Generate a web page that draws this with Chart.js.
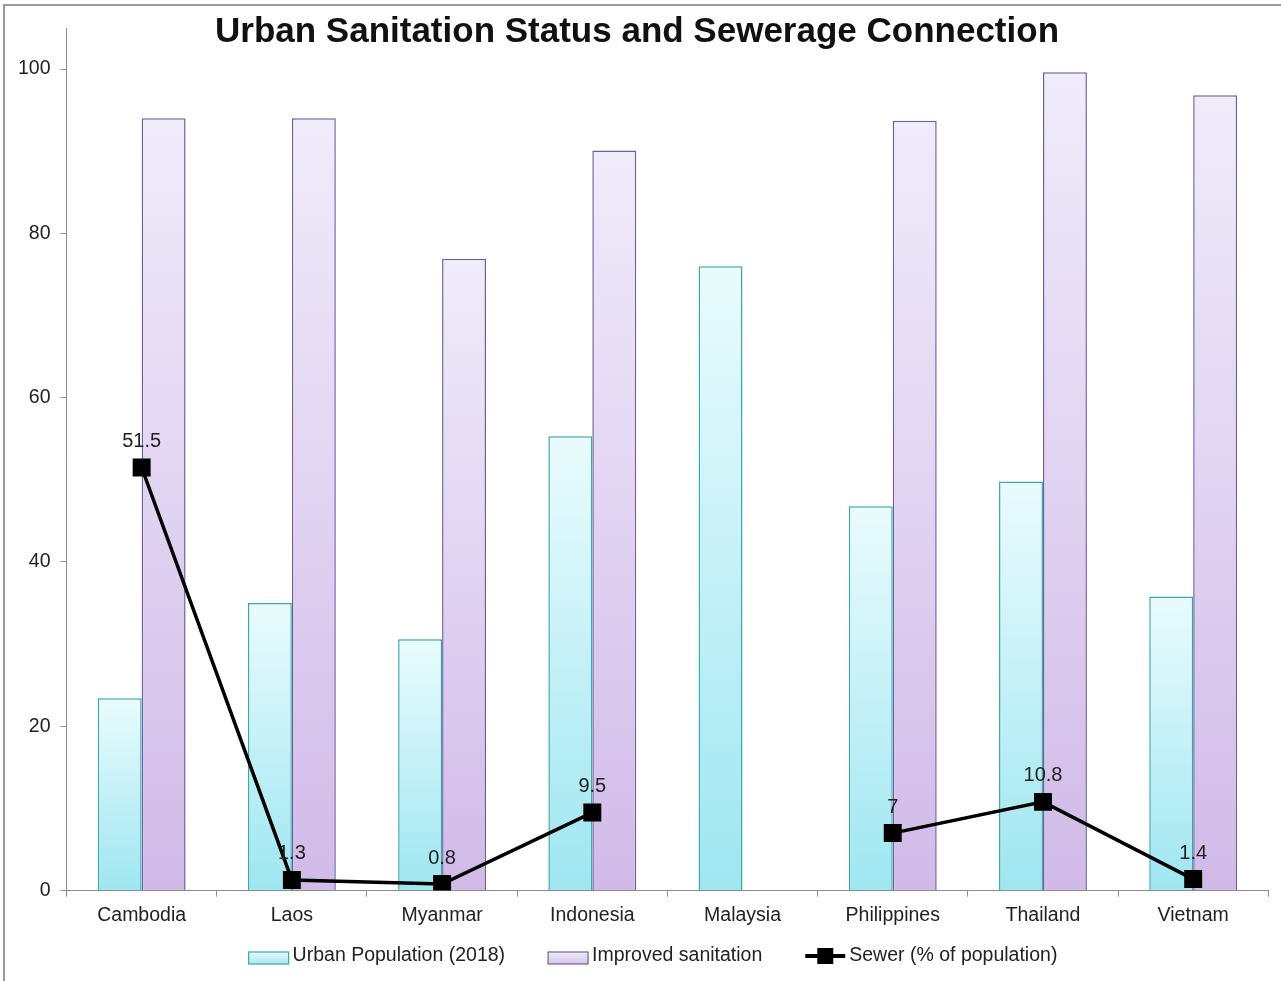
<!DOCTYPE html>
<html>
<head>
<meta charset="utf-8">
<title>Urban Sanitation Status and Sewerage Connection</title>
<script src="https://cdn.jsdelivr.net/npm/chart.js@4/dist/chart.umd.min.js"></script>
<style>
  html, body { margin: 0; padding: 0; background: #fff; }
  #wrap { width: 1281px; height: 981px; }
</style>
</head>
<body>
<div id="wrap"><canvas id="graphCanvas" width="1281" height="981"></canvas></div>
<script>
// data
var Zemlje = ["Cambodia", "Laos", "Myanmar", "Indonesia", "Malaysia", "Philippines", "Thailand", "Vietnam"];
var UrbanPop = [23.4, 35.0, 30.6, 55.3, 76.0, 46.8, 49.8, 35.8];
var Sanitacija = [94.0, 94.0, 76.9, 90.1, null, 93.7, 99.6, 96.8];
var Kanalizacija = [51.5, 1.3, 0.8, 9.5, null, 7, 10.8, 1.4];
var Oznake = ["51.5", "1.3", "0.8", "9.5", "", "7", "10.8", "1.4"];
var yTicks = [0, 20, 40, 60, 80, 100];

var naslov = "Urban Sanitation Status and Sewerage Connection";
var legendaNazivi = ["Urban Population (2018)", "Improved sanitation", "Sewer (% of population)"];

var FONT = 'Arial, "Liberation Sans", sans-serif';
var TEXT = '#222222';

// each bar gets its own vertical gradient: pale at the top, stronger at the base
function barFill(top, bottom) {
    return function(c) {
        var chart = c.chart;
        if (c.type !== 'data' || !chart.chartArea || c.parsed == null || c.parsed.y == null) return bottom;
        var ys = chart.scales.y;
        var y0 = ys.getPixelForValue(c.parsed.y);
        var y1 = ys.getPixelForValue(0);
        var g = chart.ctx.createLinearGradient(0, y0, 0, y1);
        g.addColorStop(0, top);
        g.addColorStop(1, bottom);
        return g;
    };
}

var naslovPlugin = {
    id: 'naslov',
    beforeDraw: function(chart) {
        var ctx = chart.ctx;
        ctx.save();
        // outer frame (left + top)
        ctx.strokeStyle = '#9a9a9a';
        ctx.lineWidth = 2;
        ctx.beginPath();
        ctx.moveTo(4, 990); ctx.lineTo(4, 5); ctx.lineTo(1290, 5);
        ctx.stroke();
        ctx.restore();
    },
    afterDraw: function(chart) {
        var ctx = chart.ctx;
        ctx.save();
        ctx.font = 'bold 35px ' + FONT;
        ctx.fillStyle = '#111';
        ctx.textAlign = 'center';
        ctx.textBaseline = 'middle';
        ctx.fillText(naslov, 637, 32);
        ctx.restore();
    }
};

var oznakePlugin = {
    id: 'oznake',
    afterDatasetsDraw: function(chart) {
        var meta = chart.getDatasetMeta(2);
        var ctx = chart.ctx;
        ctx.save();
        ctx.font = '20px ' + FONT;
        ctx.fillStyle = TEXT;
        ctx.textAlign = 'center';
        ctx.textBaseline = 'middle';
        meta.data.forEach(function(pt, i) {
            if (Kanalizacija[i] == null) return;
            ctx.fillText(Oznake[i], pt.x, pt.y - 26);
        });
        ctx.restore();
    }
};

var legendaPlugin = {
    id: 'legenda',
    afterDraw: function(chart) {
        var ctx = chart.ctx;
        var boxW = 40, gapTxt = 4, gapItem = 43, cy = 956;
        ctx.save();
        ctx.font = '19.5px ' + FONT;
        var widths = legendaNazivi.map(function(t) { return ctx.measureText(t).width; });
        var total = 0;
        widths.forEach(function(w) { total += boxW + gapTxt + w; });
        total += gapItem * (widths.length - 1);
        var x = 653 - total / 2;
        for (var i = 0; i < legendaNazivi.length; i++) {
            if (i === 0 || i === 1) {
                var g = ctx.createLinearGradient(0, cy - 5, 0, cy + 9);
                g.addColorStop(0, i === 0 ? '#ecfbfd' : '#f1edf9');
                g.addColorStop(1, i === 0 ? '#a6e6f0' : '#d6c2ea');
                ctx.fillStyle = g;
                ctx.fillRect(x, cy - 4, boxW, 12);
                ctx.strokeStyle = i === 0 ? '#3aa9ad' : '#7262a2';
                ctx.lineWidth = 1.2;
                ctx.strokeRect(x, cy - 4, boxW, 12);
            } else {
                ctx.strokeStyle = '#000';
                ctx.lineWidth = 4;
                ctx.beginPath();
                ctx.moveTo(x, cy); ctx.lineTo(x + boxW, cy);
                ctx.stroke();
                ctx.fillStyle = '#000';
                ctx.fillRect(x + boxW / 2 - 8, cy - 8, 16, 16);
            }
            ctx.fillStyle = TEXT;
            ctx.textAlign = 'left';
            ctx.textBaseline = 'middle';
            ctx.fillText(legendaNazivi[i], x + boxW + gapTxt, cy);
            x += boxW + gapTxt + widths[i] + gapItem;
        }
        ctx.restore();
    }
};

var chartdata = {
    labels: Zemlje,
    datasets: [
        {
            type: 'bar',
            label: legendaNazivi[0],
            data: UrbanPop,
            backgroundColor: barFill('#eafbfd', '#9fe6f1'),
            borderColor: '#3aa9ad',
            borderWidth: 1.5,
            order: 2
        },
        {
            type: 'bar',
            label: legendaNazivi[1],
            data: Sanitacija,
            backgroundColor: barFill('#f0ecfa', '#d1bae8'),
            borderColor: '#6f5fa0',
            borderWidth: 1.5,
            order: 2
        },
        {
            type: 'line',
            label: legendaNazivi[2],
            data: Kanalizacija,
            borderColor: '#000',
            borderWidth: 3.5,
            pointStyle: 'rect',
            pointRadius: 12.7,
            pointBackgroundColor: '#000',
            pointBorderColor: '#000',
            pointBorderWidth: 0,
            spanGaps: false,
            tension: 0,
            order: 1
        }
    ]
};

var ctx = document.getElementById('graphCanvas');
var graf = new Chart(ctx, {
    type: 'bar',
    data: chartdata,
    plugins: [naslovPlugin, oznakePlugin, legendaPlugin],
    options: {
        responsive: false,
        animation: false,
        datasets: {
            bar: { categoryPercentage: 0.585, barPercentage: 1.0 }
        },
        layout: { padding: { top: 28, left: 8, right: 9, bottom: 47 } },
        plugins: {
            legend: { display: false },
            title: { display: false },
            tooltip: { enabled: false }
        },
        scales: {
            x: {
                offset: true,
                afterFit: function(axis) {
                    axis.paddingLeft = 0;
                    axis.paddingRight = 0;
                },
                grid: { drawOnChartArea: false, drawTicks: true, tickLength: 6, offset: true, color: '#8c8c8c' },
                border: { display: true, color: '#8c8c8c', width: 1 },
                ticks: { color: TEXT, font: { family: FONT, size: 19.5 }, padding: 7, maxRotation: 0 }
            },
            y: {
                min: 0,
                max: 105,
                afterBuildTicks: function(axis) {
                    axis.ticks = yTicks.map(function(v) { return { value: v }; });
                },
                grid: { drawOnChartArea: false, drawTicks: true, tickLength: 6, color: '#8c8c8c' },
                border: { display: true, color: '#8c8c8c', width: 1 },
                ticks: { color: TEXT, font: { family: FONT, size: 19.5 }, padding: 10 }
            }
        }
    }
});
</script>
</body>
</html>
